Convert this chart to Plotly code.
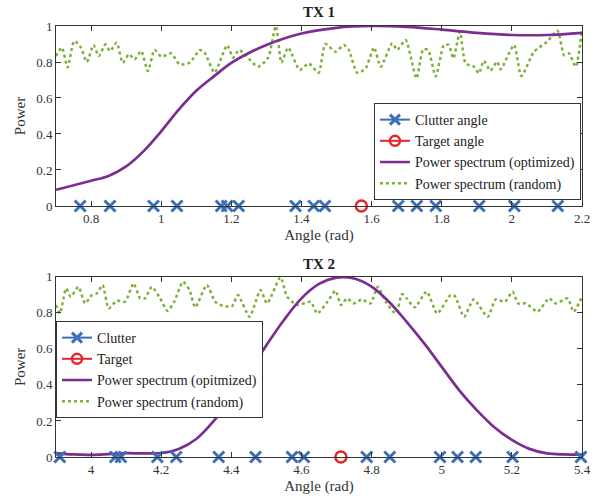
import plotly.graph_objects as go

# ---------------- data ----------------
clutter1 = [0.769, 0.854, 0.978, 1.045, 1.171, 1.188, 1.221, 1.383, 1.435, 1.467,
            1.676, 1.729, 1.783, 1.907, 2.007, 2.131]
target1 = [1.5708]
opt1_x = [0.7, 0.8, 0.85, 0.9, 0.95, 1.0, 1.05, 1.1, 1.15, 1.2, 1.25, 1.3, 1.4,
          1.5, 1.6, 1.7, 1.8, 1.9, 2.0, 2.1, 2.2]
opt1_y = [0.09, 0.14, 0.167, 0.22, 0.305, 0.415, 0.535, 0.64, 0.72, 0.795, 0.85,
          0.895, 0.958, 0.99, 1.0, 0.995, 0.98, 0.962, 0.95, 0.95, 0.962]
rnd1_x = [0.7, 0.717, 0.733, 0.752, 0.771, 0.788, 0.807, 0.822, 0.841, 0.854, 0.873,
          0.89, 0.908, 0.924, 0.943, 0.962, 0.981, 1.0, 1.029, 1.052, 1.081, 1.111,
          1.124, 1.152, 1.188, 1.205, 1.222, 1.243, 1.276, 1.305, 1.327, 1.343, 1.362,
          1.395, 1.421, 1.449, 1.468, 1.497, 1.521, 1.535, 1.559, 1.583, 1.607, 1.626,
          1.659, 1.673, 1.697, 1.728, 1.747, 1.761, 1.783, 1.806, 1.82, 1.833, 1.852,
          1.868, 1.892, 1.906, 1.92, 1.939, 1.958, 1.968, 2.006, 2.027, 2.063, 2.101,
          2.13, 2.149, 2.163, 2.182, 2.2]
rnd1_y = [0.833, 0.88, 0.77, 0.917, 0.88, 0.80, 0.894, 0.833, 0.898, 0.861, 0.907,
          0.796, 0.843, 0.815, 0.861, 0.75, 0.867, 0.83, 0.848, 0.787, 0.796, 0.867,
          0.852, 0.741, 0.893, 0.824, 0.867, 0.833, 0.774, 0.824, 1.0, 0.796, 0.88,
          0.756, 0.792, 0.74, 0.9, 0.857, 0.894, 0.867, 0.74, 0.765, 0.881, 0.774,
          0.904, 0.867, 0.922, 0.709, 0.87, 0.867, 0.72, 0.894, 0.894, 0.82, 0.968,
          0.792, 0.774, 0.737, 0.807, 0.752, 0.802, 0.759, 0.894, 0.722, 0.857, 0.913,
          0.974, 0.838, 0.848, 0.774, 0.978]

clutter2 = [3.911, 4.069, 4.085, 4.189, 4.243, 4.364, 4.469, 4.573, 4.607, 4.786,
            4.852, 4.995, 5.045, 5.097, 5.202, 5.397]
target2 = [4.7124]
opt2_x = [3.9, 3.95, 4.0, 4.05, 4.1, 4.15, 4.2, 4.25, 4.3, 4.35, 4.4, 4.45, 4.5,
          4.55, 4.6, 4.65, 4.7, 4.75, 4.8, 4.85, 4.9, 4.95, 5.0, 5.05, 5.1, 5.15,
          5.2, 5.25, 5.3, 5.35, 5.4]
opt2_y = [0.022, 0.014, 0.012, 0.016, 0.021, 0.02, 0.022, 0.045, 0.1, 0.2, 0.33,
          0.47, 0.62, 0.76, 0.88, 0.96, 0.995, 0.99, 0.945, 0.86, 0.75, 0.63, 0.5,
          0.37, 0.26, 0.165, 0.095, 0.045, 0.02, 0.014, 0.013]
rnd2_x = [3.9, 3.911, 3.929, 3.942, 3.964, 3.983, 4.002, 4.016, 4.033, 4.05, 4.073,
          4.097, 4.121, 4.14, 4.154, 4.173, 4.197, 4.218, 4.237, 4.262, 4.281, 4.297,
          4.33, 4.354, 4.378, 4.402, 4.419, 4.452, 4.483, 4.502, 4.54, 4.559, 4.588,
          4.626, 4.645, 4.674, 4.697, 4.713, 4.73, 4.749, 4.773, 4.797, 4.818, 4.84,
          4.869, 4.887, 4.9, 4.923, 4.957, 4.987, 5.025, 5.037, 5.064, 5.091, 5.131,
          5.154, 5.18, 5.202, 5.218, 5.24, 5.273, 5.306, 5.325, 5.359, 5.376, 5.4]
rnd2_y = [0.843, 0.796, 0.935, 0.889, 0.944, 0.852, 0.898, 0.907, 0.954, 0.824, 0.867,
          0.861, 0.963, 0.88, 0.88, 0.944, 0.88, 0.811, 0.861, 0.972, 0.926, 0.83,
          0.954, 0.861, 0.837, 0.837, 0.898, 0.778, 0.926, 0.852, 0.996, 0.889, 0.843,
          0.861, 0.796, 0.861, 0.922, 0.843, 0.88, 0.852, 0.874, 0.852, 0.944, 0.861,
          0.796, 0.904, 0.88, 0.83, 0.917, 0.796, 0.898, 0.893, 0.778, 0.874, 0.778,
          0.874, 0.861, 0.917, 0.852, 0.852, 0.806, 0.88, 0.852, 0.88, 0.806, 0.889]

x_ticks1 = [0.8, 1, 1.2, 1.4, 1.6, 1.8, 2, 2.2]
x_ticks2 = [4, 4.2, 4.4, 4.6, 4.8, 5, 5.2, 5.4]
y_ticks = [0, 0.2, 0.4, 0.6, 0.8, 1]

names1 = ["Clutter angle", "Target angle", "Power spectrum (optimized)", "Power spectrum (random)"]
names2 = ["Clutter", "Target", "Power spectrum (opitmized)", "Power spectrum (random)"]

# ---------------- style ----------------
BLUE = "#3B70B6"
RED = "#E3262B"
PURPLE = "#7B2D90"
GREEN = "#7DB03A"
AX = "#333333"
FONT = "Liberation Serif"

fig = go.Figure()


def add_panel(xa, ya, legend, clutter, target, ox, oy, rx, ry, names):
    fig.add_trace(go.Scatter(x=rx, y=ry, mode="lines", xaxis=xa, yaxis=ya,
                             line=dict(color=GREEN, width=2.5, dash="dot", shape="spline", smoothing=0.6),
                             showlegend=False))
    fig.add_trace(go.Scatter(x=ox, y=oy, mode="lines", xaxis=xa, yaxis=ya,
                             line=dict(color=PURPLE, width=2.7, shape="spline"),
                             showlegend=False))
    fig.add_trace(go.Scatter(x=clutter, y=[0] * len(clutter), mode="markers", xaxis=xa, yaxis=ya,
                             marker=dict(symbol="x-thin", size=11, line=dict(color=BLUE, width=3)),
                             cliponaxis=False, showlegend=False))
    fig.add_trace(go.Scatter(x=target, y=[0] * len(target), mode="markers", xaxis=xa, yaxis=ya,
                             marker=dict(symbol="circle-open", size=11, color=RED, line=dict(color=RED, width=2.5)),
                             cliponaxis=False, showlegend=False))
    # legend entries
    fig.add_trace(go.Scatter(x=[None], y=[None], mode="lines+markers", xaxis=xa, yaxis=ya, name=names[0],
                             line=dict(color=BLUE, width=2),
                             marker=dict(symbol="x-thin", size=10, line=dict(color=BLUE, width=3)),
                             legend=legend))
    fig.add_trace(go.Scatter(x=[None], y=[None], mode="lines+markers", xaxis=xa, yaxis=ya, name=names[1],
                             line=dict(color=RED, width=2),
                             marker=dict(symbol="circle-open", size=10, color=RED, line=dict(color=RED, width=2.5)),
                             legend=legend))
    fig.add_trace(go.Scatter(x=[None], y=[None], mode="lines", xaxis=xa, yaxis=ya, name=names[2],
                             line=dict(color=PURPLE, width=2.5), legend=legend))
    fig.add_trace(go.Scatter(x=[None], y=[None], mode="lines", xaxis=xa, yaxis=ya, name=names[3],
                             line=dict(color=GREEN, width=2.5, dash="dot"), legend=legend))


add_panel("x", "y", "legend", clutter1, target1, opt1_x, opt1_y, rnd1_x, rnd1_y, names1)
add_panel("x2", "y2", "legend2", clutter2, target2, opt2_x, opt2_y, rnd2_x, rnd2_y, names2)

axis_common = dict(showline=True, linecolor=AX, linewidth=1, mirror="allticks", ticks="inside",
                   ticklen=5, tickcolor=AX, showgrid=False, zeroline=False, automargin=False,
                   tickfont=dict(family=FONT, size=13, color=AX))
title_font = dict(size=15, family=FONT, color=AX)
leg_font = dict(family=FONT, size=14, color="#222")

fig.update_layout(
    width=601, height=499,
    margin=dict(l=56, r=19, t=26, b=42),
    paper_bgcolor="white", plot_bgcolor="white",
    font=dict(family=FONT, color=AX),
    xaxis=dict(domain=[0, 1], range=[0.7, 2.2], tickvals=x_ticks1, anchor="y",
               title=dict(text="Angle (rad)", font=title_font, standoff=4), **axis_common),
    yaxis=dict(domain=[0.5824, 1], range=[0, 1], tickvals=y_ticks, anchor="x",
               title=dict(text="Power", font=title_font, standoff=6), **axis_common),
    xaxis2=dict(domain=[0, 1], range=[3.9, 5.4], tickvals=x_ticks2, anchor="y2",
                title=dict(text="Angle (rad)", font=title_font, standoff=4), **axis_common),
    yaxis2=dict(domain=[0, 0.4183], range=[0, 1], tickvals=y_ticks, anchor="x2",
                title=dict(text="Power", font=title_font, standoff=6), **axis_common),
    legend=dict(x=0.998, y=0.8213, xanchor="right", yanchor="top", bgcolor="white",
                bordercolor=AX, borderwidth=1, font=leg_font, tracegroupgap=0, itemwidth=30),
    legend2=dict(x=0.0, y=0.3155, xanchor="left", yanchor="top", bgcolor="white",
                 bordercolor=AX, borderwidth=1, font=leg_font, tracegroupgap=0, itemwidth=30),
    annotations=[
        dict(text="<b>TX 1</b>", x=0.5, y=1.0325, xref="paper", yref="paper", showarrow=False,
             xanchor="center", yanchor="middle", font=dict(family=FONT, size=15, color="#222")),
        dict(text="<b>TX 2</b>", x=0.5, y=0.4478, xref="paper", yref="paper", showarrow=False,
             xanchor="center", yanchor="middle", font=dict(family=FONT, size=15, color="#222")),
    ],
)

fig.write_html("out.html", config={"displayModeBar": False},
               post_script="document.body.style.margin='0';")
